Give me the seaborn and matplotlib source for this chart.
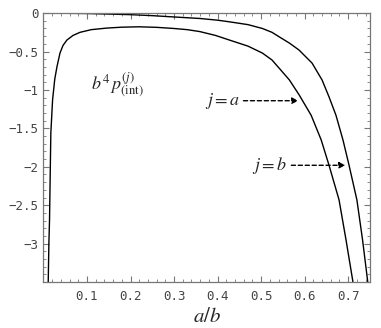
import numpy as np
import pandas as pd
import matplotlib
matplotlib.use("Agg")
import matplotlib.pyplot as plt
import seaborn as sns
from matplotlib.ticker import MultipleLocator, FixedLocator, FuncFormatter

# j = a curve (diverges at a/b -> 0)
xa = [0.011, 0.0125, 0.014, 0.017, 0.021, 0.026, 0.031, 0.038, 0.045, 0.054, 0.068, 0.084,
      0.11, 0.145, 0.18, 0.22, 0.26, 0.3, 0.33, 0.359, 0.395, 0.427, 0.47, 0.503, 0.525, 0.542,
      0.565, 0.588, 0.615, 0.638, 0.656, 0.679, 0.695, 0.711]
ya = [-3.5, -3.0, -2.69, -1.56, -1.13, -0.86, -0.70, -0.52, -0.42, -0.35, -0.29, -0.25,
      -0.215, -0.195, -0.183, -0.178, -0.185, -0.20, -0.215, -0.24, -0.29, -0.35, -0.43, -0.52,
      -0.61, -0.72, -0.87, -1.07, -1.33, -1.65, -1.98, -2.43, -2.95, -3.5]

# j = b curve
xb = [0.0, 0.1, 0.2, 0.25, 0.3, 0.36, 0.40, 0.427, 0.47, 0.503, 0.525, 0.542, 0.565, 0.587,
      0.617, 0.640, 0.656, 0.672, 0.688, 0.702, 0.720, 0.733, 0.745]
yb = [0.0, -0.005, -0.02, -0.033, -0.05, -0.07, -0.092, -0.113, -0.15, -0.20, -0.25, -0.31,
      -0.39, -0.48, -0.65, -0.87, -1.09, -1.33, -1.65, -1.98, -2.43, -2.95, -3.5]

xticks = [0.1, 0.2, 0.3, 0.4, 0.5, 0.6, 0.7]
yticks = [0, -0.5, -1, -1.5, -2, -2.5, -3]

sns.set_style("ticks")
plt.rcParams["mathtext.fontset"] = "stix"

fig = plt.figure(figsize=(3.81, 3.28), dpi=100)
ax = fig.add_axes([0.114, 0.140, 0.857, 0.820])

df_a = pd.DataFrame({"x": xa, "y": ya})
df_b = pd.DataFrame({"x": xb, "y": yb})
sns.lineplot(data=df_a, x="x", y="y", ax=ax, color="black", lw=1.0, sort=False)
sns.lineplot(data=df_b, x="x", y="y", ax=ax, color="black", lw=1.0, sort=False)

ax.set_xlim(0, 0.75)
ax.set_ylim(-3.5, 0)

ax.xaxis.set_major_locator(FixedLocator(xticks))
ax.xaxis.set_minor_locator(MultipleLocator(0.02))
ax.yaxis.set_major_locator(FixedLocator(yticks))
ax.yaxis.set_minor_locator(MultipleLocator(0.1))

def fmt(v, pos):
    s = ("%g" % v).replace("-", "\u2212")
    return s

ax.xaxis.set_major_formatter(FuncFormatter(fmt))
ax.yaxis.set_major_formatter(FuncFormatter(fmt))

ax.tick_params(which="both", direction="in", top=True, right=True,
               color="#777777", labelcolor="#444444", labelsize=9)
ax.tick_params(which="major", length=4, width=0.8)
ax.tick_params(which="minor", length=2, width=0.6)
ax.tick_params(axis="x", pad=6)
for lab in ax.get_xticklabels() + ax.get_yticklabels():
    lab.set_family("DejaVu Sans Mono")
for sp in ax.spines.values():
    sp.set_color("#777777")
    sp.set_linewidth(0.9)

ax.set_xlabel(r"$a/b$", fontsize=15, labelpad=2)
ax.set_ylabel("")

ax.text(0.11, -0.93, r"$b^4\,p^{(j)}_{(\mathrm{int})}$", fontsize=13, va="center")

ax.annotate("", xy=(0.592, -1.14), xytext=(0.453, -1.14),
            arrowprops=dict(arrowstyle="-|>", linestyle=(0, (3, 2)), color="black",
                            lw=1.0, mutation_scale=9))
ax.text(0.370, -1.14, r"$j=a$", fontsize=13, va="center")

ax.annotate("", xy=(0.700, -1.98), xytext=(0.563, -1.98),
            arrowprops=dict(arrowstyle="-|>", linestyle=(0, (3, 2)), color="black",
                            lw=1.0, mutation_scale=9))
ax.text(0.478, -1.98, r"$j=b$", fontsize=13, va="center")

fig.savefig("out.png", dpi=100)
